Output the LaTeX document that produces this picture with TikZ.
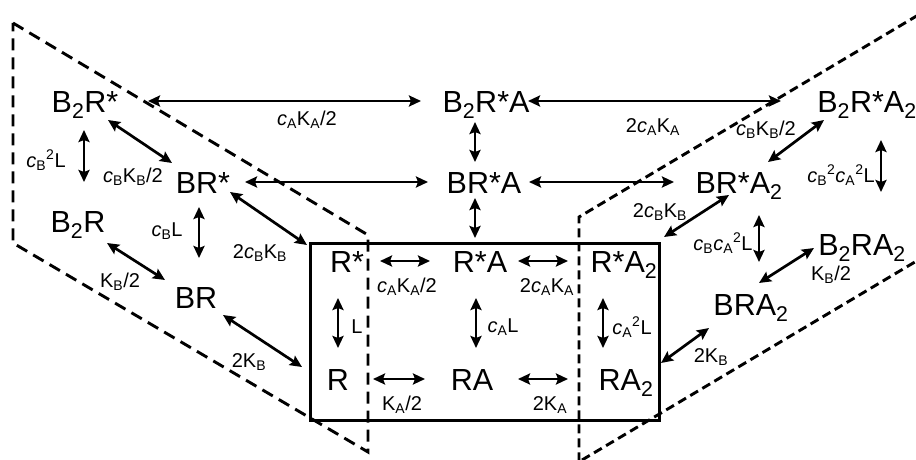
\documentclass[tikz,border=0pt]{standalone}
\usepackage{fontspec}
\setmainfont{Liberation Sans}
\usetikzlibrary{arrows.meta,calc}
\newcommand\sbs[1]{\textsubscript{#1}}
\newcommand\sps[1]{\textsuperscript{#1}}
\newcommand\myc{\textit{c}}
\begin{document}
\begin{tikzpicture}[x=1pt,y=-1pt,
  st/.style={font=\fontsize{30.5}{30}\selectfont, inner sep=0pt, text height=22pt, text depth=0pt},
  lb/.style={font=\fontsize{20}{20}\selectfont, inner sep=0pt},
  arr/.style={{Stealth[length=12pt,width=11pt,inset=2pt]}-{Stealth[length=12pt,width=11pt,inset=2pt]}, line width=2.7pt},
  dshA/.style={line width=2.9pt, dash pattern=on 12pt off 7pt},
  dshB/.style={line width=2.9pt, dash pattern=on 9pt off 5pt}]
\useasboundingbox (0,0) rectangle (916,460);
\clip (0,0) rectangle (916,460);
\fill[white] (0,0) rectangle (916,460);
% dashed regions
\draw[dshA] (13,23) -- (368,235) -- (368,452) -- (13,243) -- cycle;
\draw[dshB] (930,8) -- (579,217) -- (579,470);
\draw[dshB] (582,460) -- (930,253);
% solid rectangle
\draw[line width=3pt] (310,243) rectangle (659,420);
% states
\node[st] (B2Rs) at (85,101) {B\sbs{2}R*};
\node[st] (B2RsA) at (486,101) {B\sbs{2}R*A};
\node[st] (B2RsA2) at (867,101) {B\sbs{2}R*A\sbs{2}};
\node[st] (BRs) at (203,182) {BR*};
\node[st] (BRsA) at (484,182) {BR*A};
\node[st] (BRsA2) at (739,182) {BR*A\sbs{2}};
\node[st] (B2R) at (78,221) {B\sbs{2}R};
\node[st] (BR) at (196,297) {BR};
\node[st] (Rs) at (347,261) {R*};
\node[st] (RsA) at (480,261) {R*A};
\node[st] (RsA2) at (624,261) {R*A\sbs{2}};
\node[st] (R) at (338,379) {R};
\node[st] (RA) at (472,379) {RA};
\node[st] (RA2) at (626,379) {RA\sbs{2}};
\node[st] (B2RA2) at (862,244) {B\sbs{2}RA\sbs{2}};
\node[st] (BRA2) at (751,304) {BRA\sbs{2}};
% transitions
\draw[arr] ($(B2Rs)+(63,0)$) -- ($(B2RsA)+(-65,0)$);
\draw[arr] ($(B2RsA)+(42,0)$) -- ($(B2RsA2)+(-86,0)$);
\draw[arr] ($(B2Rs)+(-1,29)$) -- ($(B2R)+(6,-39)$);
\draw[arr] ($(B2Rs)+(23,19)$) -- ($(BRs)+(-31,-19)$);
\draw[arr] ($(BRs)+(42,0)$) -- ($(BRsA)+(-56,0)$);
\draw[arr] ($(BRsA)+(45,0)$) -- ($(BRsA2)+(-65,0)$);
\draw[arr] ($(B2RsA)+(-11,21)$) -- ($(BRsA)+(-9,-20)$);
\draw[arr] ($(BRsA)+(-9,16)$) -- ($(RsA)+(-5,-23)$);
\draw[arr] ($(B2RsA2)+(14,39)$) -- ($(B2RA2)+(19,-52)$);
\draw[arr] ($(B2RsA2)+(-43,19)$) -- ($(BRsA2)+(29,-20)$);
\draw[arr] ($(BRsA2)+(20,33)$) -- ($(BRA2)+(8,-42)$);
\draw[arr] ($(BRsA2)+(-10,13)$) -- ($(RsA2)+(40,-24)$);
\draw[arr] ($(B2RA2)+(-48,4)$) -- ($(BRA2)+(8,-21)$);
\draw[arr] ($(BRA2)+(-42,24)$) -- ($(RA2)+(35,-16)$);
\draw[arr] ($(RsA)+(38,0)$) -- ($(RsA2)+(-56,0)$);
\draw[arr] ($(RA)+(46,0)$) -- ($(RA2)+(-58,0)$);
\draw[arr] ($(RsA)+(-4,37)$) -- ($(RA)+(4,-31)$);
\draw[arr] ($(RsA2)+(-21,37)$) -- ($(RA2)+(-23,-31)$);
\draw[arr] ($(Rs)+(33,0)$) -- ($(RsA)+(-50,0)$);
\draw[arr] ($(R)+(35,0)$) -- ($(RA)+(-47,0)$);
\draw[arr] ($(Rs)+(-9,37)$) -- ($(R)+(0,-31)$);
\draw[arr] ($(BRs)+(-4,25)$) -- ($(BR)+(3,-39)$);
\draw[arr] ($(BRs)+(27,10)$) -- ($(Rs)+(-40,-16)$);
\draw[arr] ($(B2R)+(29,22)$) -- ($(BR)+(-31,-17)$);
\draw[arr] ($(BR)+(27,18)$) -- ($(R)+(-36,-12)$);
% rate labels
\node[lb] (l1) at (307,120) {\myc\sbs{A}K\sbs{A}/2};
\node[lb] (l2) at (653,127) {2\myc\sbs{A}K\sbs{A}};
\node[lb] (l3) at (46,160) {\myc\sbs{B}\sps{2}L};
\node[lb] (l4) at (133,177) {\myc\sbs{B}K\sbs{B}/2};
\node[lb] (l5) at (167,231) {\myc\sbs{B}L};
\node[lb] (l6) at (260,253) {2\myc\sbs{B}K\sbs{B}};
\node[lb] (l7) at (120,282) {K\sbs{B}/2};
\node[lb] (l8) at (249,362) {2K\sbs{B}};
\node[lb] (l9) at (407,287) {\myc\sbs{A}K\sbs{A}/2};
\node[lb] (l10) at (402,405) {K\sbs{A}/2};
\node[lb] (l11) at (357,327) {L};
\node[lb] (l12) at (547,287) {2\myc\sbs{A}K\sbs{A}};
\node[lb] (l13) at (550,405) {2K\sbs{A}};
\node[lb] (l14) at (503,327) {\myc\sbs{A}L};
\node[lb] (l15) at (632,327) {\myc\sbs{A}\sps{2}L};
\node[lb] (l16) at (766,130) {\myc\sbs{B}K\sbs{B}/2};
\node[lb] (l17) at (841,175) {\myc\sbs{B}\sps{2}\myc\sbs{A}\sps{2}L};
\node[lb] (l18) at (660,212) {2\myc\sbs{B}K\sbs{B}};
\node[lb] (l19) at (723,243) {\myc\sbs{B}\myc\sbs{A}\sps{2}L};
\node[lb] (l20) at (831,275) {K\sbs{B}/2};
\node[lb] (l21) at (711,357) {2K\sbs{B}};
\end{tikzpicture}
\end{document}
